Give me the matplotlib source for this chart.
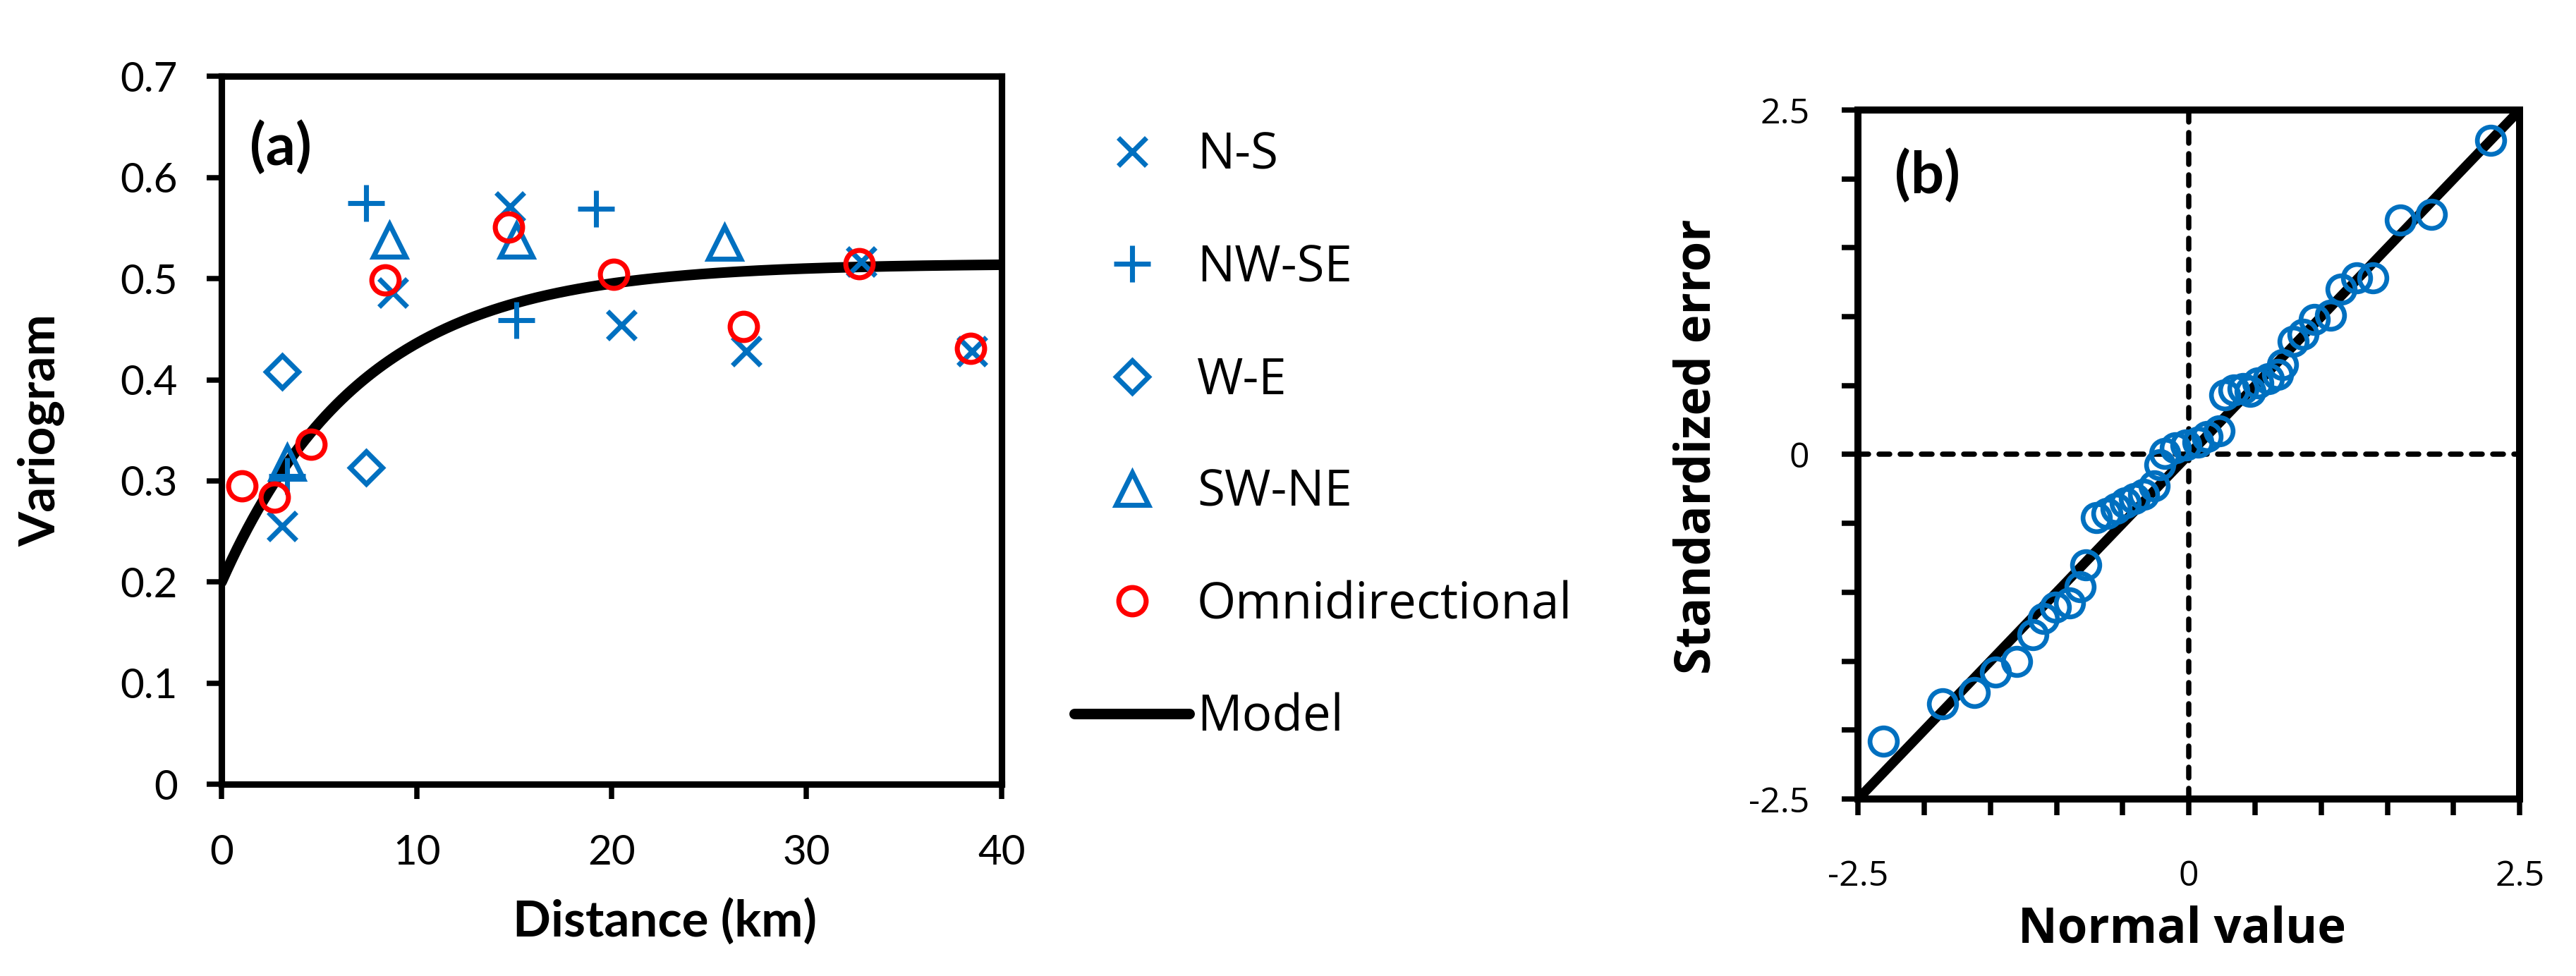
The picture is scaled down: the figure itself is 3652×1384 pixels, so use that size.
import numpy as np
import matplotlib.pyplot as plt

plt.rcParams['font.family'] = ['Lato', 'DejaVu Sans']

BLUE = '#0070C0'
RED = '#FF0000'

# --- (a) 方向別バリオグラム (distance km, semivariance) ---
ns_dist = [3.1, 8.8, 14.8, 20.5, 26.9, 32.8, 38.5]
ns_gamma = [0.255, 0.486, 0.571, 0.454, 0.428, 0.517, 0.428]

nwse_dist = [3.35, 7.4, 15.1, 19.2]
nwse_gamma = [0.305, 0.575, 0.459, 0.569]

we_dist = [3.1, 7.4]
we_gamma = [0.408, 0.313]

swne_dist = [3.35, 8.6, 15.1, 25.8]
swne_gamma = [0.318, 0.538, 0.538, 0.536]

omni_dist = [1.05, 2.7, 4.6, 8.4, 14.7, 20.1, 26.75, 32.7, 38.4]
omni_gamma = [0.295, 0.284, 0.336, 0.499, 0.551, 0.504, 0.453, 0.515, 0.431]

# exponential model parameters
nugget = 0.2
partial_sill = 0.315
practical_range = 21.7  # km

# --- (b) normal QQ plot ---
normal_value = [-2.31, -1.86, -1.62, -1.46, -1.30, -1.18, -1.10, -1.01, -0.90, -0.82,
                -0.78, -0.70, -0.62, -0.55, -0.48, -0.41, -0.34, -0.26, -0.22, -0.18,
                -0.10, -0.02, 0.07, 0.14, 0.23, 0.27, 0.34, 0.41, 0.46, 0.52,
                0.60, 0.67, 0.71, 0.79, 0.86, 0.95, 1.07, 1.15, 1.27, 1.39,
                1.60, 1.83, 2.28]
std_error = [-2.08, -1.81, -1.73, -1.58, -1.50, -1.31, -1.19, -1.11, -1.08, -0.96,
             -0.80, -0.46, -0.43, -0.39, -0.35, -0.32, -0.29, -0.23, -0.075, 0.005,
             0.05, 0.07, 0.09, 0.13, 0.17, 0.43, 0.47, 0.48, 0.46, 0.52,
             0.55, 0.58, 0.65, 0.82, 0.87, 0.98, 1.01, 1.20, 1.28, 1.28,
             1.70, 1.74, 2.28]
ref_line = [-2.5, 2.5]

# --- figure ---
fig = plt.figure(figsize=(3653 / 300, 1384 / 300), dpi=300)
ax_a = fig.add_axes([0.0860, 0.1965, 0.3027, 0.7252])
ax_b = fig.add_axes([0.7211, 0.1814, 0.2568, 0.7059])

# panel (a)
h = np.linspace(0, 40, 300)
model = nugget + partial_sill * (1 - np.exp(-3 * h / practical_range))
ln_model, = ax_a.plot(h, model, color='black', lw=3.6, solid_capstyle='round',
                      label='Model', zorder=2)

mk = dict(ls='none', mfc='none', zorder=3)
ln_ns, = ax_a.plot(ns_dist, ns_gamma, marker='x', ms=9.5, mew=1.7, color=BLUE,
                   label='N-S', **mk)
ln_nwse, = ax_a.plot(nwse_dist, nwse_gamma, marker='+', ms=12.5, mew=1.7, color=BLUE,
                     label='NW-SE', **mk)
ln_we, = ax_a.plot(we_dist, we_gamma, marker='D', ms=7.7, mew=1.7, color=BLUE,
                   label='W-E', **mk)
ln_swne, = ax_a.plot(swne_dist, swne_gamma, marker='^', ms=11, mew=1.7, color=BLUE,
                     label='SW-NE', **mk)
ln_omni, = ax_a.plot(omni_dist, omni_gamma, marker='o', ms=9.3, mew=1.7, color=RED,
                     label='Omnidirectional', **mk)

ax_a.set_xlim(0, 40)
ax_a.set_ylim(0, 0.7)
ax_a.set_xticks(np.arange(0, 41, 10))
ax_a.set_yticks(np.arange(0, 0.71, 0.1))
ax_a.set_yticklabels([f'{v:g}' for v in np.round(np.arange(0, 0.71, 0.1), 1)])
ax_a.tick_params(labelsize=14, length=5, width=1.8, direction='out', pad=10)
ax_a.tick_params(axis='x', pad=12)
for s in ax_a.spines.values():
    s.set_linewidth(2.2)
ax_a.set_ylabel('Variogram', fontsize=17, fontweight='bold', va='center')
ax_a.yaxis.set_label_coords(-0.231, 0.5)
ax_a.set_xlabel('Distance (km)', fontsize=17, fontweight='bold', va='center')
ax_a.xaxis.set_label_coords(0.568, -0.194)
ax_a.text(0.036, 0.90, '(a)', transform=ax_a.transAxes, fontsize=20,
          fontweight='bold', va='center', ha='left')

fig.legend(handles=[ln_ns, ln_nwse, ln_we, ln_swne, ln_omni, ln_model],
           loc='upper left', bbox_to_anchor=(0.417, 0.866), frameon=False,
           prop={'family': ['Open Sans', 'DejaVu Sans'], 'size': 17},
           handlelength=2.3, handletextpad=0.15, labelspacing=1.24,
           borderpad=0, borderaxespad=0, numpoints=1)

# panel (b)
ax_b.plot(ref_line, ref_line, color='black', lw=3.3, zorder=2)
ax_b.axvline(0, color='black', lw=1.8, ls=(0, (2, 2)), dash_capstyle='round', zorder=1)
ax_b.axhline(0, color='black', lw=1.8, ls=(0, (2, 2)), dash_capstyle='round', zorder=1)
ax_b.plot(normal_value, std_error, ls='none', marker='o', ms=9.3, mew=1.6,
          mfc='none', mec=BLUE, zorder=3)

fam_b = ['Open Sans', 'DejaVu Sans']
ticks_b = np.round(np.arange(-2.5, 2.51, 0.5), 1)
labels_b = ['-2.5' if t == -2.5 else '0' if t == 0 else '2.5' if t == 2.5 else ''
            for t in ticks_b]
ax_b.set_xlim(-2.5, 2.5)
ax_b.set_ylim(-2.5, 2.5)
ax_b.set_xticks(ticks_b)
ax_b.set_xticklabels(labels_b, family=fam_b)
ax_b.set_yticks(ticks_b)
ax_b.set_yticklabels(labels_b, family=fam_b)
ax_b.tick_params(labelsize=12, length=5.5, width=1.8, direction='out', pad=11)
ax_b.tick_params(axis='x', pad=15)
for s in ax_b.spines.values():
    s.set_linewidth(2.4)
ax_b.set_ylabel('Standardized error', fontsize=16.5, fontweight='bold', va='center',
                family=fam_b)
ax_b.yaxis.set_label_coords(-0.243, 0.511)
ax_b.set_xlabel('Normal value', fontsize=16.5, fontweight='bold', va='center',
                family=fam_b)
ax_b.xaxis.set_label_coords(0.49, -0.19)
ax_b.text(0.055, 0.905, '(b)', transform=ax_b.transAxes, fontsize=20,
          fontweight='bold', va='center', ha='left')

fig.savefig('out.png', dpi=300)
